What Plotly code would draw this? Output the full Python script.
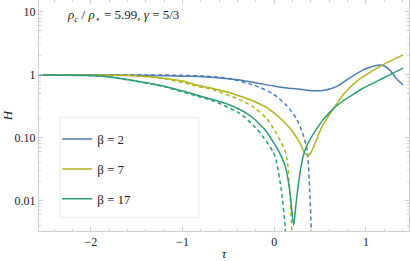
import plotly.graph_objects as go

# ---- data ----
tau_b2 = [-2.565, -1.90, -1.36, -1.00, -0.81, -0.65, -0.38, -0.19, -0.01, 0.14, 0.28, 0.42, 0.53, 0.68, 0.82, 0.97, 1.11, 1.15, 1.19, 1.26, 1.33, 1.405]
H_b2 = [1.0, 1.0, 0.98, 0.955, 0.945, 0.91, 0.83, 0.746, 0.668, 0.621, 0.592, 0.562, 0.565, 0.651, 0.886, 1.20, 1.41, 1.44, 1.41, 1.20, 0.886, 0.693]

tau_b2d = [-2.565, -1.36, -1.00, -0.81, -0.60, -0.45, -0.27, -0.16, -0.01, 0.13, 0.24, 0.31, 0.36, 0.387, 0.405, 0.415]
H_b2d = [1.0, 1.0, 0.985, 0.964, 0.92, 0.85, 0.72, 0.635, 0.498, 0.333, 0.205, 0.118, 0.064, 0.0147, 0.0032, 0.0008]

tau_b7 = [-2.565, -1.90, -1.57, -1.21, -1.00, -0.85, -0.65, -0.485, -0.376, -0.267, -0.158, -0.085, -0.013, 0.06, 0.133, 0.19, 0.242, 0.28, 0.314, 0.34, 0.365, 0.38, 0.405, 0.46, 0.496, 0.532, 0.605, 0.678, 0.749, 0.895, 1.04, 1.185, 1.331, 1.405]
H_b7 = [1.0, 0.99, 0.975, 0.886, 0.80, 0.693, 0.599, 0.522, 0.463, 0.406, 0.345, 0.305, 0.257, 0.209, 0.164, 0.132, 0.102, 0.0832, 0.0646, 0.0556, 0.0519, 0.0537, 0.060, 0.092, 0.125, 0.160, 0.237, 0.339, 0.481, 0.782, 1.088, 1.44, 1.845, 2.08]

tau_b7d = [-2.565, -1.57, -1.21, -0.848, -0.648, -0.376, -0.231, -0.085, 0.024, 0.114, 0.142, 0.169, 0.191, 0.20]
H_b7d = [1.0, 0.98, 0.88, 0.668, 0.567, 0.404, 0.313, 0.205, 0.118, 0.064, 0.044, 0.0147, 0.0034, 0.0008]

tau_b17 = [-2.565, -1.90, -1.57, -1.21, -0.848, -0.648, -0.50, -0.376, -0.30, -0.231, -0.16, -0.085, -0.013, 0.03, 0.071, 0.12, 0.169, 0.212, 0.242, 0.278, 0.314, 0.35, 0.387, 0.46, 0.532, 0.605, 0.678, 0.75, 0.822, 0.967, 1.113, 1.258, 1.405]
H_b17 = [1.0, 0.964, 0.832, 0.668, 0.481, 0.398, 0.339, 0.282, 0.245, 0.207, 0.166, 0.126, 0.0871, 0.0692, 0.0531, 0.0355, 0.0147, 0.0041, 0.0102, 0.0256, 0.050, 0.0724, 0.092, 0.138, 0.193, 0.254, 0.320, 0.385, 0.451, 0.614, 0.782, 1.0, 1.28]

tau_b17d = [-2.565, -1.90, -1.57, -1.21, -0.848, -0.648, -0.376, -0.231, -0.122, -0.011, 0.022, 0.078, 0.122, 0.13]
H_b17d = [1.0, 0.964, 0.823, 0.656, 0.463, 0.379, 0.245, 0.160, 0.104, 0.060, 0.044, 0.0147, 0.0034, 0.0008]

series = [
    ("β = 2", "#4a7db6", tau_b2, H_b2, tau_b2d, H_b2d),
    ("β = 7", "#b3b31d", tau_b7, H_b7, tau_b7d, H_b7d),
    ("β = 17", "#2b9c79", tau_b17, H_b17, tau_b17d, H_b17d),
]

y_ticks = [0.01, 0.1, 1, 10]
y_ticktext = ["0.01", "0.10", "1", "10"]
x_ticks = [-2, -1, 0, 1]
x_ticktext = ["\u22122", "\u22121", "0", "1"]

SERIF = "Liberation Serif"
FRAME = "#cfcfcf"

fig = go.Figure()
for name, col, xs, ys, xd, yd in series:
    fig.add_trace(go.Scatter(x=xd, y=yd, mode="lines", showlegend=False, hoverinfo="skip",
                             line=dict(color=col, width=1.5, dash="4px,3px", shape="spline", smoothing=0.6)))
for name, col, xs, ys, xd, yd in series:
    fig.add_trace(go.Scatter(x=xs, y=ys, mode="lines", name=name, legendgroup=name, hoverinfo="skip",
                             line=dict(color=col, width=1.5, shape="spline", smoothing=0.6)))

minor_y = [m * 10.0 ** e for e in (-3, -2, -1, 0, 1) for m in range(2, 10)]

fig.update_layout(
    width=411, height=261,
    margin=dict(l=39, r=2, t=0, b=30),
    paper_bgcolor="white", plot_bgcolor="white",
    font=dict(family=SERIF, size=12, color="#222"),
    showlegend=True,
    hovermode=False,
    legend=dict(x=0.049, y=0.463, xanchor="left", yanchor="top",
                bgcolor="rgba(0,0,0,0)", borderwidth=0,
                font=dict(family=SERIF, size=13, color="#222"),
                tracegroupgap=10, itemwidth=30),
    shapes=[dict(type="rect", xref="paper", yref="paper",
                 x0=0.0568, x1=0.432, y0=0.0593, y1=0.492,
                 fillcolor="white", line=dict(color="#e8e8e8", width=1), layer="below")],
    annotations=[dict(xref="paper", yref="paper", x=0.07, y=0.935, xanchor="left", yanchor="middle",
                      showarrow=False,
                      text="<i>ρ</i><sub><i>c</i></sub> / <i>ρ</i><sub>⋆</sub> = 5.99, <i>γ</i> = 5/3",
                      font=dict(family=SERIF, size=13, color="#222"))],
)

fig.update_xaxes(range=[-2.565, 1.47], showgrid=False, zeroline=False,
                 showline=True, linecolor=FRAME, linewidth=1, mirror="ticks",
                 ticks="inside", ticklen=4, tickcolor=FRAME,
                 tickvals=x_ticks, ticktext=x_ticktext,
                 minor=dict(ticks="inside", ticklen=2, tickcolor=FRAME, dtick=0.2, showgrid=False),
                 title=dict(text="<i>τ</i>", font=dict(family=SERIF, size=13), standoff=9),
                 automargin=False)
fig.update_yaxes(type="log", range=[-2.48, 1.19], showgrid=False, zeroline=False,
                 showline=True, linecolor=FRAME, linewidth=1, mirror="ticks",
                 ticks="inside", ticklen=4, tickcolor=FRAME,
                 tickvals=y_ticks, ticktext=y_ticktext,
                 minor=dict(ticks="inside", ticklen=2, tickcolor=FRAME, tickvals=minor_y, showgrid=False),
                 title=dict(text="<i>H</i>", font=dict(family=SERIF, size=13), standoff=6),
                 automargin=False)

fig.write_html("out.html", config={"displayModeBar": False, "staticPlot": True},
               post_script="document.body.style.margin='0';")
